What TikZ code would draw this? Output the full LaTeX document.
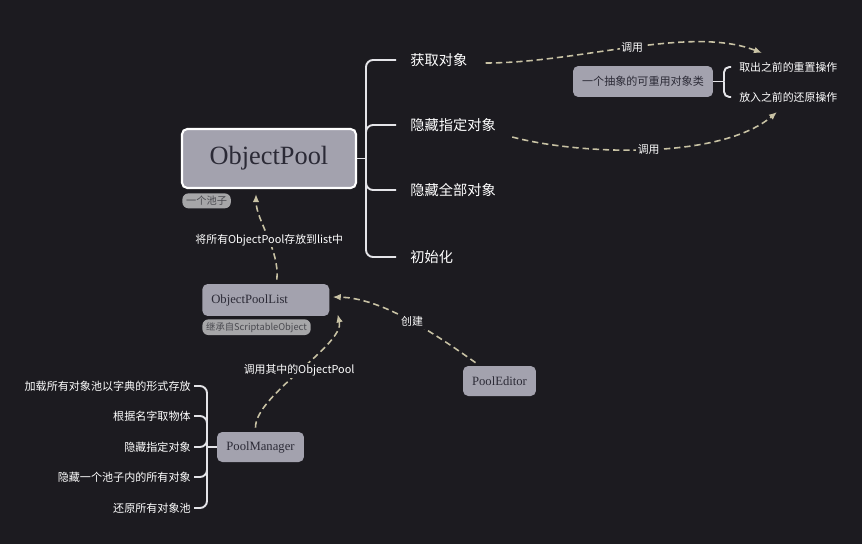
\documentclass[tikz,border=0pt]{standalone}
\usepackage{fontspec}
\setmainfont{Noto Sans CJK SC}
\newfontfamily\seriffont{Liberation Serif}
\usetikzlibrary{arrows.meta}
\definecolor{bgdark}{HTML}{1C1B20}
\definecolor{boxgray}{HTML}{A3A2AE}
\definecolor{boxtext}{HTML}{2B2A36}
\definecolor{linkbeige}{HTML}{C8C2A4}
\definecolor{branchwhite}{HTML}{E4E4E8}
\definecolor{taggray}{HTML}{A6A6A8}
\definecolor{tagtext}{HTML}{4A4A50}

\begin{document}
\begin{tikzpicture}[x=0.02cm, y=-0.02cm, >={Latex[length=4.6pt,width=3.8pt]},
  topic/.style={fill=boxgray, rounded corners=3pt, text=boxtext, inner sep=0pt,
    font=\seriffont\fontsize{7.2}{8}\selectfont},
  tag/.style={fill=taggray, rounded corners=3.5pt, text=tagtext, inner xsep=2.2pt,
    inner ysep=1.6pt, font=\fontsize{5.8}{7}\selectfont},
  branch/.style={draw=branchwhite, line width=1.1pt, rounded corners=4pt},
  link/.style={draw=linkbeige, line width=0.9pt, dash pattern=on 3.6pt off 2.2pt, ->},
  lbl/.style={fill=bgdark, text=white, inner sep=1pt, font=\fontsize{6.2}{7}\selectfont},
  bigtxt/.style={text=white, anchor=west, inner xsep=8pt, inner ysep=1pt,
    font=\fontsize{8.1}{9}\selectfont},
  subtxt/.style={text=white, anchor=west, inner xsep=4.5pt, inner ysep=1pt,
    font=\fontsize{6.2}{7}\selectfont},
  lefttxt/.style={text=white, anchor=east, inner xsep=1.7pt, inner ysep=1pt,
    font=\fontsize{6.3}{7}\selectfont}]

  \fill[bgdark] (0,0) rectangle (862,544);

  % main pool
  \node[topic, draw=white, line width=1.2pt, minimum width=3.48cm, minimum height=1.18cm,
    font=\seriffont\fontsize{15}{17}\selectfont] (pool) at (269,158.5) {ObjectPool};
  \node[tag, anchor=north west] (pooltag) at (182,193) {一个池子};

  \node[bigtxt] (get) at (396,60) {获取对象};
  \node[bigtxt] (hide) at (396,125) {隐藏指定对象};
  \node[bigtxt] (hideall) at (396,190) {隐藏全部对象};
  \node[bigtxt] (init) at (396,257) {初始化};

  \coordinate (trunk) at (366,158.5);
  \draw[branch] (pool.east) -- (trunk);
  \draw[branch] (trunk) |- (get.west);
  \draw[branch] (trunk) |- (hide.west);
  \draw[branch] (trunk) |- (hideall.west);
  \draw[branch] (trunk) |- (init.west);

  % abstract class
  \node[topic, minimum width=2.8cm, minimum height=0.62cm,
    font=\fontsize{6.3}{7}\selectfont] (abstract) at (643,81.5) {一个抽象的可重用对象类};
  \node[subtxt] (reset) at (731,67) {取出之前的重置操作};
  \node[subtxt] (restore) at (731,97) {放入之前的还原操作};

  \coordinate (subtrunk) at (724,81.5);
  \draw[branch, rounded corners=3pt] (abstract.east) -- (subtrunk);
  \draw[branch, rounded corners=3pt] (subtrunk) |- (reset.west);
  \draw[branch, rounded corners=3pt] (subtrunk) |- (restore.west);

  \draw[link] ([shift={(4,3)}]get.east) .. controls (580,63) and (690,25) ..
    ([shift={(31,-14)}]reset.west) node[lbl, pos=0.5] {调用};
  \draw[link] ([shift={(2,12)}]hide.east) .. controls (580,155) and (720,160) ..
    ([shift={(46,15)}]restore.west) node[lbl, pos=0.5] {调用};

  % list, editor, manager
  \node[topic, anchor=west, text width=2.18cm, align=left, inner xsep=0.18cm,
    minimum height=0.64cm] (list) at (202,300) {ObjectPoolList};
  \node[tag, anchor=north west, font=\fontsize{5.3}{6.5}\selectfont] (listtag) at (202,319)
    {继承自ScriptableObject};

  \node[topic, minimum width=1.46cm, minimum height=0.6cm] (editor) at (499.5,381) {PoolEditor};
  \node[topic, minimum width=1.74cm, minimum height=0.6cm] (manager) at (260.5,447) {PoolManager};

  \draw[link] ([shift={(11,-4)}]list.north) .. controls (280,250) and (256,220) ..
    ([shift={(-13,5)}]pool.south) node[lbl, pos=0.45] {将所有ObjectPool存放到list中};
  \draw[link] ([shift={(-24,-3)}]editor.north) .. controls (430,330) and (380,298) ..
    ([shift={(3,-3)}]list.east) node[lbl, pos=0.45] {创建};
  \draw[link] ([shift={(-5,-4)}]manager.north) .. controls (255,395) and (345,345) ..
    ([shift={(8,-2)}]list.south east) node[lbl, pos=0.5] {调用其中的ObjectPool};

  % manager functions
  \node[lefttxt] (load) at (194,386) {加载所有对象池以字典的形式存放};
  \node[lefttxt] (byname) at (194,416) {根据名字取物体};
  \node[lefttxt] (hideone) at (194,447) {隐藏指定对象};
  \node[lefttxt] (hidepool) at (194,477) {隐藏一个池子内的所有对象};
  \node[lefttxt] (restoreall) at (194,508) {还原所有对象池};

  \coordinate (lefttrunk) at (207,447);
  \draw[branch] (manager.west) -- (lefttrunk);
  \foreach \t in {load, byname, hideone, hidepool, restoreall}
    \draw[branch] (lefttrunk) |- (\t.east);

\end{tikzpicture}
\end{document}
